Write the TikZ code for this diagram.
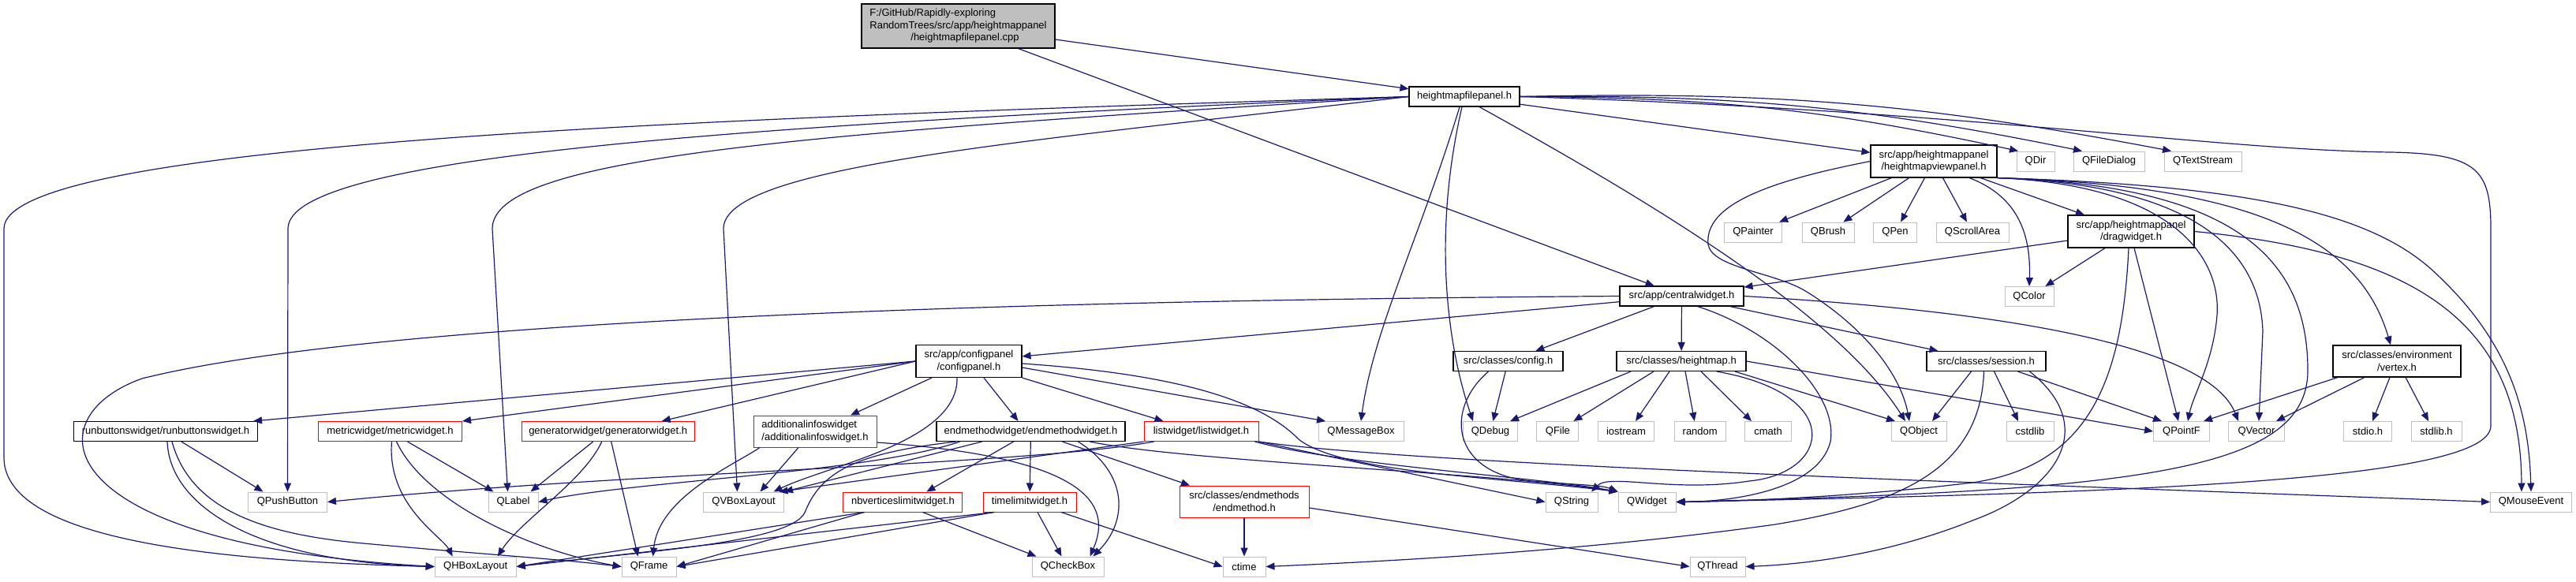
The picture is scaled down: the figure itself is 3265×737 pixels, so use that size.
\documentclass[tikz,border=0pt]{standalone}
\usepackage{fontspec}
\setmainfont{Liberation Sans}
\usetikzlibrary{arrows.meta}
\definecolor{edgeblue}{HTML}{191970}
\definecolor{extgray}{HTML}{BFBFBF}
\newcommand{\graphfont}{\fontsize{13}{15.5}\selectfont}
\tikzset{
	hdrbox/.style={draw=black, line width=1.1pt, minimum height=25pt, inner xsep=2pt, inner ysep=3pt, font=\graphfont, align=center},
	extbox/.style={hdrbox, draw=extgray, line width=1pt},
	cutbox/.style={hdrbox, draw=red, line width=1pt},
	rootbox/.style={hdrbox, fill=extgray},
	inc/.style={draw=edgeblue, line width=1.2pt, -{Triangle[length=11pt,width=9pt]}},
}
\begin{document}
\begin{tikzpicture}[x=1pt,y=-1pt]
	\useasboundingbox (0,0) rectangle (3265,737) ;
	\node[rootbox, minimum width=245pt, minimum height=56pt, align=left] (root) at (1214.5,33) {F:/GitHub/Rapidly-exploring\\RandomTrees/src/app/heightmappanel\\\hspace*{52pt}/heightmapfilepanel.cpp};
	\node[hdrbox, minimum width=140pt] (hfp) at (1856,122.5) {heightmapfilepanel.h};
	\node[hdrbox, minimum width=160pt, minimum height=41pt] (hvp) at (2451,204.5) {src/app/heightmappanel\\/heightmapviewpanel.h};
	\node[extbox, minimum width=48pt] (qdir) at (2580,204.5) {QDir};
	\node[extbox, minimum width=90pt] (qfiledialog) at (2673,204.5) {QFileDialog};
	\node[extbox, minimum width=98pt] (qtextstream) at (2792,204.5) {QTextStream};
	\node[extbox, minimum width=73pt] (qpainter) at (2222,294.5) {QPainter};
	\node[extbox, minimum width=66pt] (qbrush) at (2317,294.5) {QBrush};
	\node[extbox, minimum width=55pt] (qpen) at (2402,294.5) {QPen};
	\node[extbox, minimum width=92pt] (qscrollarea) at (2500,294.5) {QScrollArea};
	\node[hdrbox, minimum width=160pt, minimum height=41pt] (drag) at (2701,293.5) {src/app/heightmappanel\\/dragwidget.h};
	\node[extbox, minimum width=62pt] (qcolor) at (2572,376) {QColor};
	\node[hdrbox, minimum width=157pt] (central) at (2131.5,375.5) {src/app/centralwidget.h};
	\node[hdrbox, minimum width=162pt, minimum height=40pt] (vertex) at (3038,458) {src/classes/environment\\/vertex.h};
	\node[hdrbox, minimum width=134pt, minimum height=41pt] (configpanel) at (1228,458) {src/app/configpanel\\/configpanel.h};
	\node[hdrbox, minimum width=139pt] (config) at (1911.5,458) {src/classes/config.h};
	\node[hdrbox, minimum width=164pt] (heightmap) at (2131,458) {src/classes/heightmap.h};
	\node[hdrbox, minimum width=151pt] (session) at (2517.5,458) {src/classes/session.h};
	\node[hdrbox, minimum width=233pt] (runbuttons) at (210,547) {runbuttonswidget/runbuttonswidget.h};
	\node[cutbox, minimum width=182pt] (metric) at (494.5,547) {metricwidget/metricwidget.h};
	\node[cutbox, minimum width=219pt] (generator) at (770.7,547) {generatorwidget/generatorwidget.h};
	\node[cutbox, minimum width=156pt, minimum height=40pt, align=left] (addinfo) at (1033,547) {additionalinfoswidget\\/additionalinfoswidget.h};
	\node[hdrbox, minimum width=239pt] (endmethodw) at (1306.5,547) {endmethodwidget/endmethodwidget.h};
	\node[cutbox, minimum width=145pt] (listw) at (1522.5,547) {listwidget/listwidget.h};
	\node[extbox, minimum width=108pt] (qmessagebox) at (1725,547) {QMessageBox};
	\node[extbox, minimum width=69pt] (qdebug) at (1889,547) {QDebug};
	\node[extbox, minimum width=53pt] (qfile) at (1974.4,547) {QFile};
	\node[extbox, minimum width=71pt] (iostream) at (2061,547) {iostream};
	\node[extbox, minimum width=65pt] (random) at (2154.7,547) {random};
	\node[extbox, minimum width=59pt] (cmath) at (2241,547) {cmath};
	\node[extbox, minimum width=70pt] (qobject) at (2432,547) {QObject};
	\node[extbox, minimum width=60pt] (cstdlib) at (2573,547) {cstdlib};
	\node[extbox, minimum width=71pt] (qpointf) at (2765,547) {QPointF};
	\node[extbox, minimum width=71pt] (qvector) at (2860,547) {QVector};
	\node[extbox, minimum width=61pt] (stdio) at (3001,547) {stdio.h};
	\node[extbox, minimum width=64pt] (stdlib) at (3088,547) {stdlib.h};
	\node[extbox, minimum width=100pt] (qpushbutton) at (364.5,636.5) {QPushButton};
	\node[extbox, minimum width=63pt] (qlabel) at (650.5,636.5) {QLabel};
	\node[extbox, minimum width=102pt] (qvboxlayout) at (942.5,636.5) {QVBoxLayout};
	\node[cutbox, minimum width=151pt] (nbvert) at (1144.4,636.5) {nbverticeslimitwidget.h};
	\node[cutbox, minimum width=118pt] (timelimit) at (1305,636.5) {timelimitwidget.h};
	\node[cutbox, minimum width=164pt, minimum height=40pt] (endmethod) at (1577,636) {src/classes/endmethods\\/endmethod.h};
	\node[extbox, minimum width=66pt] (qstring) at (1992,636.5) {QString};
	\node[extbox, minimum width=73pt] (qwidget) at (2087.5,636.5) {QWidget};
	\node[extbox, minimum width=103pt] (qmouseevent) at (3208,636.5) {QMouseEvent};
	\node[extbox, minimum width=103pt] (qhboxlayout) at (602.7,718.5) {QHBoxLayout};
	\node[extbox, minimum width=69pt] (qframe) at (822.6,718.5) {QFrame};
	\node[extbox, minimum width=91pt] (qcheckbox) at (1353.5,718.5) {QCheckBox};
	\node[extbox, minimum width=54pt] (ctime) at (1577,718.5) {ctime};
	\node[extbox, minimum width=70pt] (qthread) at (2177,718.5) {QThread};

	\draw[inc] (root) -- (hfp) ;
	\draw[inc] (root) -- (central) ;

	\draw[inc] (hfp) -- (hvp) ;
	\draw[inc] (hfp.east) to[bend left=6] ([xshift=-22pt]qdir.north) ;
	\draw[inc] (hfp.east) to[bend left=6] ([xshift=-34pt]qfiledialog.north) ;
	\draw[inc] (hfp.east) to[bend left=6] ([xshift=-40pt]qtextstream.north) ;
	\draw[inc] (hfp.east) .. controls (2500,140) and (2800,190) .. (3030,193) .. controls (3140,195) and (3157,215) .. (3157,290) -- (3157,540) .. controls (3157,610) and (2700,625) .. (qwidget.east) ;
	\draw[inc] (hfp.west) .. controls (900,150) and (5,180) .. (5,290) -- (5,580) .. controls (5,690) and (300,712) .. (qhboxlayout.west) ;
	\draw[inc] (hfp.west) .. controls (900,160) and (365,200) .. (365,290) -- (qpushbutton.north) ;
	\draw[inc] (hfp.west) .. controls (1000,170) and (624,200) .. (624,290) -- ([xshift=-7pt]qlabel.north) ;
	\draw[inc] (hfp.west) .. controls (1300,180) and (917,210) .. (917,290) -- ([xshift=-8pt]qvboxlayout.north) ;
	\draw[inc] ([xshift=-6pt]hfp.south) .. controls (1800,300) and (1740,420) .. (qmessagebox.north) ;
	\draw[inc] ([xshift=-3pt]hfp.south) .. controls (1815,300) and (1835,440) .. ([xshift=-22pt]qdebug.north) ;
	\draw[inc] ([xshift=19pt]hfp.south) .. controls (2100,260) and (2330,400) .. ([xshift=-17pt]qobject.north) ;

	\draw[inc] (hvp) -- (qpainter) ;
	\draw[inc] (hvp) -- (qbrush) ;
	\draw[inc] (hvp) -- (qpen) ;
	\draw[inc] (hvp) -- (qscrollarea) ;
	\draw[inc] ([xshift=45pt]hvp.south) .. controls (2560,250) and (2574,300) .. (qcolor.north) ;
	\draw[inc] (hvp) -- (drag) ;
	\draw[inc] (hvp.west) .. controls (2240,230) and (2160,260) .. (2165,310) .. controls (2170,340) and (2250,345) .. (2290,370) .. controls (2370,420) and (2410,480) .. ([xshift=-12pt]qobject.north) ;
	\draw[inc] (hvp.south east) .. controls (2850,235) and (2990,300) .. ([xshift=-8pt]vertex.north) ;
	\draw[inc] (hvp.south east) .. controls (2760,235) and (2815,330) .. (2810,400) .. controls (2805,460) and (2780,500) .. ([xshift=8pt]qpointf.north) ;
	\draw[inc] (hvp.south east) .. controls (2800,235) and (2865,330) .. (2868,420) -- ([xshift=3pt]qvector.north) ;
	\draw[inc] (hvp.south east) .. controls (2850,235) and (2925,340) .. (2925,470) .. controls (2925,600) and (2700,622) .. (qwidget.east) ;
	\draw[inc] (hvp.south east) .. controls (2850,235) and (3000,270) .. (3080,340) .. controls (3180,430) and (3205,520) .. (qmouseevent.north) ;

	\draw[inc] (drag) -- (central) ;
	\draw[inc] (drag) -- (qcolor) ;
	\draw[inc] ([xshift=-3pt]drag.south) .. controls (2690,480) and (2650,590) .. (2500,612) .. controls (2350,630) and (2200,636) .. (qwidget.east) ;
	\draw[inc] ([xshift=4pt]drag.south) -- ([xshift=-4pt]qpointf.north) ;
	\draw[inc] (drag.east) .. controls (3050,320) and (3195,400) .. ([xshift=-12pt]qmouseevent.north) ;

	\draw[inc] (central) -- (configpanel) ;
	\draw[inc] (central.west) .. controls (1400,380) and (500,400) .. (180,480) .. controls (40,530) and (60,690) .. (qhboxlayout.west) ;
	\draw[inc] (central) -- (config) ;
	\draw[inc] (central) -- (heightmap) ;
	\draw[inc] (central) -- (session) ;
	\draw[inc] ([xshift=20pt]central.south) .. controls (2250,420) and (2330,500) .. (2320,560) .. controls (2305,620) and (2200,636) .. (qwidget.east) ;
	\draw[inc] (central.east) .. controls (2550,395) and (2800,440) .. ([xshift=-23pt]qvector.north) ;

	\draw[inc] (config) -- (qdebug) ;
	\draw[inc] ([xshift=-25pt]config.south) .. controls (1830,520) and (1840,600) .. (1940,610) .. controls (2000,615) and (2030,615) .. (qwidget.north west) ;

	\draw[inc] ([xshift=-64pt]heightmap.south) -- ([xshift=25pt]qdebug.north) ;
	\draw[inc] ([xshift=-35pt]heightmap.south) -- ([xshift=20pt]qfile.north) ;
	\draw[inc] ([xshift=-15pt]heightmap.south) -- ([xshift=12pt]iostream.north) ;
	\draw[inc] ([xshift=5pt]heightmap.south) -- ([xshift=-7pt]random.north) ;
	\draw[inc] ([xshift=25pt]heightmap.south) -- ([xshift=-21pt]cmath.north) ;
	\draw[inc] ([xshift=68pt]heightmap.south) -- ([xshift=-30pt]qobject.north) ;
	\draw[inc] ([xshift=45pt]heightmap.south) .. controls (2340,500) and (2320,600) .. (2217,610) .. controls (2120,625) and (2040,600) .. ([xshift=25pt]qstring.north) ;
	\draw[inc] (heightmap.east) -- (qpointf.west) ;

	\draw[inc] ([xshift=-19pt]session.south) -- ([xshift=17pt]qobject.north) ;
	\draw[inc] ([xshift=10pt]session.south) -- ([xshift=-15pt]cstdlib.north) ;
	\draw[inc] ([xshift=40pt]session.south) -- ([xshift=-25pt]qpointf.north) ;
	\draw[inc] ([xshift=-3pt]session.south) .. controls (2510,600) and (2400,640) .. (2250,665) .. controls (2000,700) and (1750,712) .. (ctime.east) ;
	\draw[inc] ([xshift=55pt]session.south) .. controls (2660,540) and (2610,620) .. (2500,660) .. controls (2400,700) and (2300,715) .. (qthread.east) ;

	\draw[inc] ([xshift=-75pt]vertex.south) -- ([xshift=28pt]qpointf.north) ;
	\draw[inc] ([xshift=-41pt]vertex.south) -- ([xshift=25pt]qvector.north) ;
	\draw[inc] ([xshift=-9pt]vertex.south) -- ([xshift=6pt]stdio.north) ;
	\draw[inc] ([xshift=11pt]vertex.south) -- ([xshift=-10pt]stdlib.north) ;

	\draw[inc] (configpanel.west) -- ([xshift=-6pt]runbuttons.north east) ;
	\draw[inc] (configpanel.west) -- (metric.north east) ;
	\draw[inc] (configpanel.west) -- ([xshift=-42pt]generator.north east) ;
	\draw[inc] ([xshift=-47pt]configpanel.south) -- ([xshift=45pt]addinfo.north) ;
	\draw[inc] ([xshift=-15pt]configpanel.south) .. controls (1215,560) and (1050,590) .. ([xshift=38pt]qvboxlayout.north) ;
	\draw[inc] ([xshift=19pt]configpanel.south) -- ([xshift=-16pt]endmethodw.north) ;
	\draw[inc] (configpanel.south east) -- ([xshift=-48pt]listw.north) ;
	\draw[inc] ([yshift=-8pt]configpanel.east) -- ([xshift=-45pt]qmessagebox.north) ;
	\draw[inc] ([yshift=-3pt]configpanel.east) .. controls (1500,475) and (1600,510) .. (1646,557) .. controls (1700,600) and (1900,605) .. (qwidget.north west) ;

	\draw[inc] ([xshift=20pt]runbuttons.south) -- ([xshift=-31pt]qpushbutton.north) ;
	\draw[inc] ([xshift=2pt]runbuttons.south) .. controls (215,640) and (320,712) .. (qhboxlayout.west) ;
	\draw[inc] ([xshift=8pt]runbuttons.south) .. controls (240,640) and (320,675) .. (450,688) .. controls (600,702) and (700,708) .. (qframe.west) ;

	\draw[inc] ([xshift=2pt]metric.south) .. controls (490,640) and (560,680) .. ([xshift=-29pt]qhboxlayout.north) ;
	\draw[inc] ([xshift=8pt]metric.south) .. controls (540,640) and (680,700) .. (qframe.west) ;
	\draw[inc] ([xshift=22pt]metric.south) -- ([xshift=-25pt]qlabel.north) ;

	\draw[inc] ([xshift=-19pt]generator.south) -- ([xshift=22pt]qlabel.north) ;
	\draw[inc] ([xshift=-8pt]generator.south) .. controls (740,610) and (660,660) .. ([xshift=28pt]qhboxlayout.north) ;
	\draw[inc] ([xshift=4pt]generator.south) -- ([xshift=-14pt]qframe.north) ;

	\draw[inc] ([xshift=-21pt]addinfo.south) -- ([xshift=21pt]qvboxlayout.north) ;
	\draw[inc] ([xshift=-70pt]addinfo.south) .. controls (930,590) and (835,630) .. ([xshift=5pt]qframe.north) ;
	\draw[inc] ([yshift=-14pt]addinfo.east) .. controls (1380,580) and (1410,640) .. ([xshift=28pt]qcheckbox.north) ;

	\draw[inc] ([xshift=-22pt]endmethodw.south) -- ([xshift=30pt]nbvert.north) ;
	\draw[inc] (endmethodw) -- (timelimit) ;
	\draw[inc] ([xshift=40pt]endmethodw.south) -- ([xshift=-69pt]endmethod.north) ;
	\draw[inc] ([xshift=60pt]endmethodw.south) .. controls (1430,600) and (1430,660) .. ([xshift=32pt]qcheckbox.north) ;
	\draw[inc] ([xshift=-62pt]endmethodw.south) -- (qvboxlayout.north east) ;
	\draw[inc] ([xshift=-90pt]endmethodw.south) .. controls (1100,600) and (800,610) .. (qlabel.east) ;
	\draw[inc] ([xshift=-95pt]endmethodw.south) .. controls (1080,575) and (1040,600) .. (1020,650) .. controls (1000,690) and (800,700) .. (qhboxlayout.east) ;
	\draw[inc] ([xshift=75pt]endmethodw.south) .. controls (1500,585) and (1900,600) .. (qwidget.north west) ;

	\draw[inc] (listw.south west) -- ([xshift=45pt]qvboxlayout.north) ;
	\draw[inc] ([xshift=-60pt]listw.south) .. controls (1300,590) and (800,598) .. (qpushbutton.east) ;
	\draw[inc] (listw.south east) -- (qstring.west) ;
	\draw[inc] ([xshift=-5pt]listw.south east) .. controls (1700,590) and (1950,605) .. (qwidget.north west) ;
	\draw[inc] (listw.south east) .. controls (1800,590) and (2600,615) .. (qmouseevent.west) ;

	\draw[inc] ([xshift=25pt]nbvert.south) -- ([xshift=-40pt]qcheckbox.north) ;
	\draw[inc] ([xshift=-49pt]nbvert.south) -- (qhboxlayout.east) ;
	\draw[inc] ([xshift=-49pt]nbvert.south) -- (qframe.east) ;

	\draw[inc] ([xshift=10pt]timelimit.south) -- ([xshift=-8pt]qcheckbox.north) ;
	\draw[inc] ([xshift=40pt]timelimit.south) -- (ctime.west) ;
	\draw[inc] ([xshift=-45pt]timelimit.south) -- (qhboxlayout.east) ;
	\draw[inc] ([xshift=-45pt]timelimit.south) -- (qframe.east) ;

	\draw[inc] (endmethod) -- (ctime) ;
	\draw[inc] ([yshift=-8pt]endmethod.east) -- (qthread.west) ;
\end{tikzpicture}
\end{document}
